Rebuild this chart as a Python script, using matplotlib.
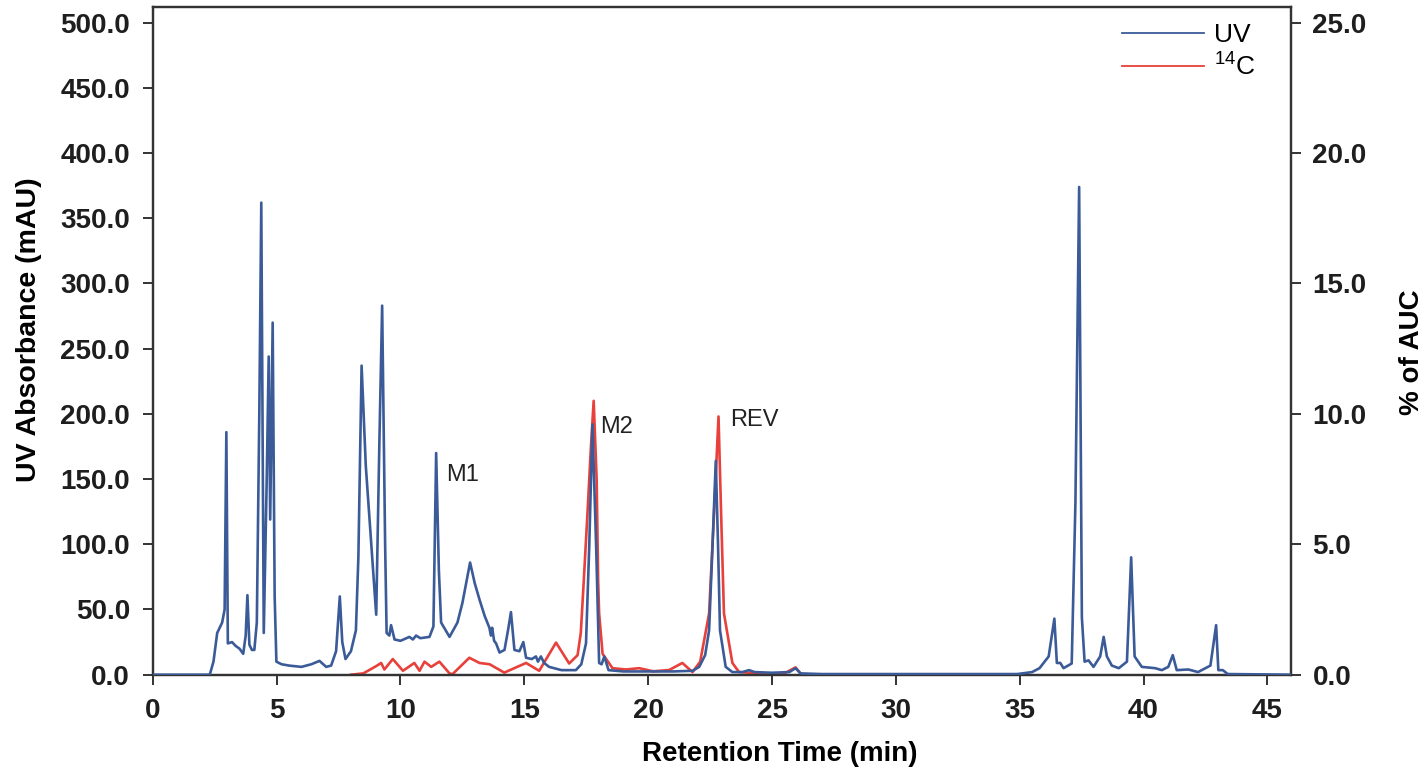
import matplotlib.pyplot as plt

plt.rcParams['font.family'] = ['Liberation Sans', 'DejaVu Sans']
plt.rcParams['mathtext.fontset'] = 'custom'
plt.rcParams['mathtext.rm'] = 'Liberation Sans'
plt.rcParams['mathtext.default'] = 'regular'

# UV trace (mAU)
uv_time = [0, 2.3, 2.45, 2.6, 2.8, 2.9, 2.97, 3.03, 3.2, 3.35, 3.5, 3.65, 3.75, 3.82, 3.9,
           4.0, 4.1, 4.2, 4.3, 4.38, 4.48, 4.6, 4.68, 4.74, 4.84, 4.92, 4.99, 5.2, 5.5,
           6.0, 6.4, 6.73, 7.0, 7.2, 7.4, 7.55, 7.65, 7.78, 8.0, 8.2, 8.3, 8.43, 8.6,
           9.02, 9.15, 9.26, 9.38, 9.44, 9.55, 9.62, 9.76, 10.0, 10.36, 10.5, 10.63, 10.8,
           11.17, 11.33, 11.44, 11.55, 11.64, 11.98, 12.3, 12.5, 12.81, 13.0, 13.2, 13.4,
           13.59, 13.65, 13.7, 13.78, 13.86, 14.0, 14.2, 14.35, 14.46, 14.6, 14.8, 14.96,
           15.07, 15.3, 15.47, 15.55, 15.67, 15.8, 16.0, 16.5, 17.08, 17.3, 17.49, 17.62,
           17.75, 17.9, 18.02, 18.12, 18.23, 18.4, 19.0, 20.0, 21.0, 21.8, 22.06, 22.3,
           22.46, 22.6, 22.73, 22.82, 22.9, 23.13, 23.4, 23.8, 24.07, 24.3, 25.0, 25.7,
           25.95, 26.15, 27.0, 34.9, 35.5, 35.8, 36.17, 36.4, 36.5, 36.64, 36.77, 37.1,
           37.25, 37.4, 37.51, 37.62, 37.78, 37.98, 38.25, 38.39, 38.52, 38.72, 39.0,
           39.33, 39.5, 39.64, 39.93, 40.47, 40.74, 41.0, 41.18, 41.34, 41.81, 42.2, 42.7,
           42.93, 43.02, 43.2, 43.4, 46.0]
uv_mau = [0, 0, 10, 32, 40, 50, 186, 24, 25, 22, 20, 16, 30, 61, 23,
          19, 19, 40, 200, 362, 32, 150, 244, 119, 270, 60, 10, 8, 7,
          6, 8, 10.6, 6, 7, 18, 60, 25, 12, 18, 34, 90, 237, 160,
          46, 180, 283, 100, 32, 30, 38, 27, 26, 29, 27, 30, 28,
          29, 37, 170, 80, 40, 29, 40, 55, 86, 70, 57, 45,
          36, 30, 36, 26, 24, 17, 19, 35, 48, 19, 18, 25,
          13, 12, 14, 10, 14, 9, 6, 3.5, 3.5, 8, 24, 98,
          192, 98, 9, 8, 14, 3.5, 2.5, 2.5, 2.5, 3, 6, 15,
          34, 100, 164, 100, 34, 6, 2, 2, 3.5, 2, 1.5, 2,
          5, 1, 0.5, 0.5, 2, 5, 14, 43, 9, 9, 5, 8.6,
          132, 374, 44, 10, 11, 6, 14, 29, 14, 7, 5,
          10, 90, 14, 6, 5, 3.5, 6, 15, 3.5, 4, 2, 7,
          38, 3.5, 3.5, 0.5, 0]

# radio trace (% of AUC)
c14_time = [8.0, 8.5, 9.02, 9.22, 9.35, 9.69, 10.1, 10.56, 10.77, 10.97, 11.24, 11.57,
            11.98, 12.1, 12.78, 13.19, 13.6, 14.19, 15.07, 15.6, 16.28, 16.81, 17.15,
            17.28, 17.4, 17.55, 17.69, 17.8, 17.92, 17.98, 18.02, 18.16, 18.56, 19.1,
            19.64, 20.2, 20.85, 21.38, 21.79, 22.1, 22.46, 22.65, 22.84, 22.95, 23.06,
            23.4, 23.67, 24.5, 25.5, 25.95, 26.15]
c14_auc = [0, 0.05, 0.33, 0.45, 0.2, 0.6, 0.15, 0.45, 0.15, 0.5, 0.3, 0.5,
           0.05, 0.02, 0.65, 0.45, 0.4, 0.08, 0.45, 0.15, 1.23, 0.43, 0.75,
           1.6, 3.6, 6.2, 8.75, 10.5, 7.5, 3.6, 2.35, 0.8, 0.25, 0.2,
           0.25, 0.13, 0.18, 0.45, 0.1, 0.5, 2.35, 6.0, 9.9, 6.0, 2.35,
           0.45, 0.1, 0.05, 0.05, 0.28, 0.05]

peak_names = ['M1', 'M2', 'REV']
peak_label_x = [11.85, 18.05, 23.3]
peak_label_y = [153, 190, 195]

blue = '#3b5b98'
red = '#e8403a'
dark = '#333333'

fig = plt.figure(figsize=(14.28, 7.8), dpi=100)
ax = fig.add_axes([0.107, 0.135, 0.797, 0.856])
ax2 = ax.twinx()

ax.plot(uv_time, uv_mau, color=blue, lw=1.9, label='UV', zorder=3)
ax2.plot(c14_time, c14_auc, color=red, lw=1.9, label=r'$^{14}$C', zorder=2)
ax.set_zorder(ax2.get_zorder() + 1)
ax.patch.set_visible(False)

ax.set_xlim(0, 45.95)
ax.set_ylim(0, 512)
ax2.set_ylim(0, 25.6)
ax.set_xticks(range(0, 46, 5))
ax.set_yticks(range(0, 501, 50))
ax2.set_yticks([0, 5, 10, 15, 20, 25])
ax.set_yticklabels([f'{v:.1f}' for v in range(0, 501, 50)])
ax2.set_yticklabels([f'{v:.1f}' for v in [0, 5, 10, 15, 20, 25]])

for a in (ax, ax2):
    for s in a.spines.values():
        s.set_color(dark)
        s.set_linewidth(1.6)
    a.tick_params(direction='out', length=7, width=1.4, color=dark,
                  labelsize=20, labelcolor='#1e1e1e')
    for lab in a.get_xticklabels() + a.get_yticklabels():
        lab.set_fontweight('bold')
ax.tick_params(axis='x', pad=9.5)
ax.tick_params(axis='y', pad=9.5)
ax2.tick_params(axis='y', pad=8.5)

ax.set_xlabel('Retention Time (min)', fontsize=20, fontweight='bold')
ax.set_ylabel('UV Absorbance (mAU)', fontsize=20.5, fontweight='bold')
ax2.set_ylabel('% of AUC', fontsize=20, fontweight='bold')
ax.xaxis.set_label_coords(0.551, -0.1)
ax.yaxis.set_label_coords(-0.097, 0.516)
ax2.yaxis.set_label_coords(1.095, 0.483)

for name, x, y in zip(peak_names, peak_label_x, peak_label_y):
    ax.text(x, y, name, fontsize=17, color='#222222', va='center', ha='left')

h1, l1 = ax.get_legend_handles_labels()
h2, l2 = ax2.get_legend_handles_labels()
leg = ax.legend(h1 + h2, l1 + l2, loc='upper right', bbox_to_anchor=(0.99, 1.012),
                frameon=False, fontsize=19, handlelength=3.1, handletextpad=0.4,
                labelspacing=0.25)
for line in leg.get_lines():
    line.set_linewidth(1.3)

fig.savefig('out.png', dpi=100)
